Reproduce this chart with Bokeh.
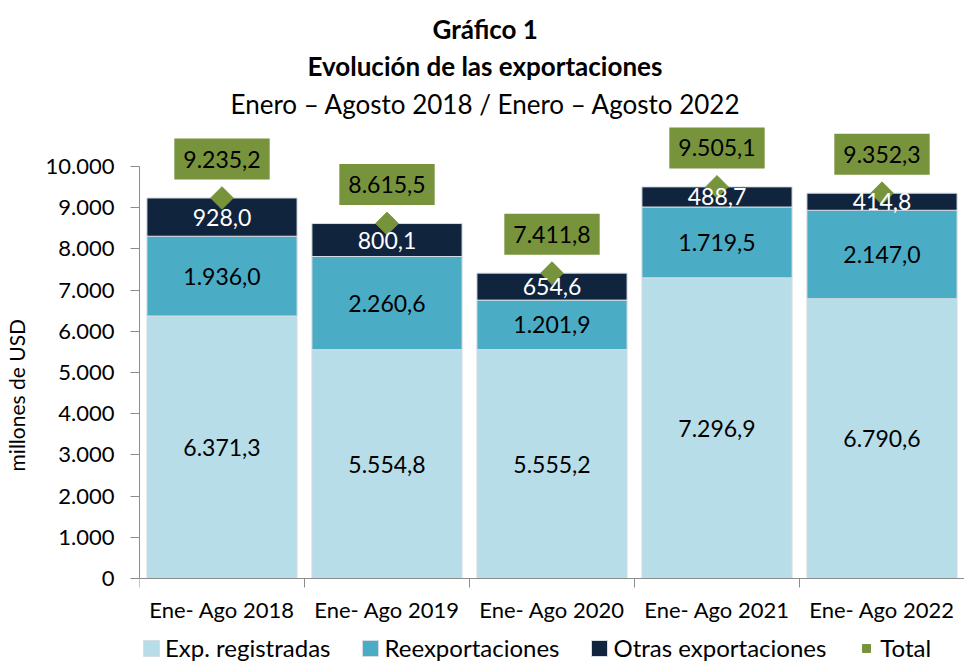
from bokeh.plotting import figure
from bokeh.models import (ColumnDataSource, Range1d, FixedTicker, Title, Label,
                          LabelSet, Legend, LegendItem)
from bokeh.core.properties import value
from bokeh.embed import file_html
from bokeh.resources import INLINE

categories = ["Ene- Ago 2018", "Ene- Ago 2019", "Ene- Ago 2020", "Ene- Ago 2021", "Ene- Ago 2022"]
exp_registradas = [6371.3, 5554.8, 5555.2, 7296.9, 6790.6]
reexportaciones = [1936.0, 2260.6, 1201.9, 1719.5, 2147.0]
otras_exportaciones = [928.0, 800.1, 654.6, 488.7, 414.8]
total = [9235.2, 8615.5, 7411.8, 9505.1, 9352.3]
y_ticks = [0, 1000, 2000, 3000, 4000, 5000, 6000, 7000, 8000, 9000, 10000]
series_names = ["Exp. registradas", "Reexportaciones", "Otras exportaciones"]

C_LIGHT = "#B7DDE8"
C_MID = "#4BACC6"
C_DARK = "#10243E"
C_GREEN = "#77933C"
FONT = "Lato"
AXIS_GRAY = "#8c8c8c"


def es_fmt(v, dec=1):
    s = f"{v:,.{dec}f}"
    return s.replace(",", "X").replace(".", ",").replace("X", ".")


xs = [i + 1 for i in range(len(categories))]
b1 = exp_registradas
b2 = [a + b for a, b in zip(exp_registradas, reexportaciones)]
src = ColumnDataSource(dict(
    x=xs, cat=categories, base=[0] * len(categories),
    reg=exp_registradas, reex=reexportaciones, otras=otras_exportaciones,
    total=total,
    y_reg=[v / 2 for v in exp_registradas],
    y_reex=[a + r / 2 for a, r in zip(b1, reexportaciones)],
    y_otras=[a + o / 2 for a, o in zip(b2, otras_exportaciones)],
    t_reg=[es_fmt(v) for v in exp_registradas],
    t_reex=[es_fmt(v) for v in reexportaciones],
    t_otras=[es_fmt(v) for v in otras_exportaciones],
))

p = figure(frame_width=825, frame_height=542, output_backend="svg",
           toolbar_location=None, x_range=Range1d(0.5, len(categories) + 0.5),
           y_range=Range1d(-2063, 11092), x_axis_location="above",
           title="Gráfico 1",
           min_border_left=0, min_border_right=0, min_border_top=121, min_border_bottom=0)
p.title.align = "left"
p.title.text_font = FONT
p.title.text_font_size = "26px"
p.title.text_font_style = "bold"
p.title.text_color = "black"
p.title.offset = 293
p.title.standoff = 2
t3 = Title(text="Enero – Agosto 2018 / Enero – Agosto 2022", align="left", text_font=FONT,
           text_font_size="26px", text_font_style="normal", text_color="black",
           offset=91, standoff=4)
p.add_layout(t3, "above")
t2 = Title(text="Evolución de las exportaciones", align="left", text_font=FONT,
           text_font_size="26px", text_font_style="bold", text_color="black",
           offset=168, standoff=4)
p.add_layout(t2, "above")

p.outline_line_color = None
p.grid.visible = False

rs = p.vbar_stack(["reg", "reex", "otras"], x="x", width=0.91, source=src,
                  fill_color=[C_LIGHT, C_MID, C_DARK], line_color="#d5dde3", line_width=1)

# segment labels
for col_y, col_t, color in [("y_reg", "t_reg", "black"), ("y_reex", "t_reex", "black"),
                            ("y_otras", "t_otras", "white")]:
    ls = LabelSet(x="x", y=col_y, text=col_t, source=src, text_align="center",
                  text_baseline="middle", text_font=value(FONT),
                  text_font_size=value("23px"), text_color=value(color))
    p.add_layout(ls)

# category labels under the zero line
p.add_layout(LabelSet(x="x", y="base", text="cat", source=src, y_offset=-31,
                      text_align="center", text_baseline="middle", text_font=value(FONT),
                      text_font_size=value("22px"), text_color=value("black")))

tot = p.scatter(x="x", y="total", source=src, marker="square", size=16, angle=0.785398,
                fill_color=C_GREEN, line_color=C_GREEN)

for x, v in zip(xs, total):
    p.add_layout(Label(x=x, y=v, y_offset=39, text=es_fmt(v), text_align="center",
                       text_baseline="middle", text_font=FONT, text_font_size="23px",
                       text_color="black", background_fill_color=C_GREEN,
                       padding=dict(left=9, right=9, top=12, bottom=12)))

# axes
yax = p.yaxis[0]
yax.ticker = FixedTicker(ticks=y_ticks)
yax.bounds = (0, 10000)
yax.major_label_overrides = {t: es_fmt(t, 0) for t in y_ticks}
yax.axis_label = "millones de  USD"
yax.axis_label_text_font = FONT
yax.axis_label_text_font_size = "21px"
yax.axis_label_text_font_style = "normal"
yax.axis_label_text_color = "black"
yax.axis_label_standoff = 14
yax.major_label_text_font = FONT
yax.major_label_text_font_size = "22px"
yax.major_label_text_color = "black"
yax.major_label_standoff = 16
yax.major_tick_out = 9
yax.major_tick_in = 0
yax.minor_tick_line_color = None
yax.axis_line_color = AXIS_GRAY
yax.major_tick_line_color = AXIS_GRAY

xax = p.xaxis[0]
xax.fixed_location = 0
xax.ticker = FixedTicker(ticks=xs, minor_ticks=[i + 0.5 for i in range(len(categories) + 1)])
xax.major_label_text_font_size = "0px"
xax.major_label_text_alpha = 0
xax.major_label_standoff = 0
xax.major_tick_line_color = None
xax.major_tick_out = 0
xax.major_tick_in = 0
xax.minor_tick_out = 0
xax.minor_tick_in = 9
xax.minor_tick_line_color = AXIS_GRAY
xax.axis_line_color = AXIS_GRAY

legend = Legend(items=[LegendItem(label=series_names[0], renderers=[rs[0]]),
                       LegendItem(label=series_names[1], renderers=[rs[1]]),
                       LegendItem(label=series_names[2], renderers=[rs[2]]),
                       LegendItem(label="Total", renderers=[tot])],
                orientation="horizontal", location=(2, 1),
                glyph_width=20, glyph_height=20, label_standoff=4, spacing=30,
                label_text_font=FONT, label_text_font_size="24px",
                label_text_color="black",
                border_line_color=None, background_fill_alpha=0,
                padding=1, margin=0)
p.add_layout(legend)

open("out.html", "w").write(file_html(p, INLINE))
